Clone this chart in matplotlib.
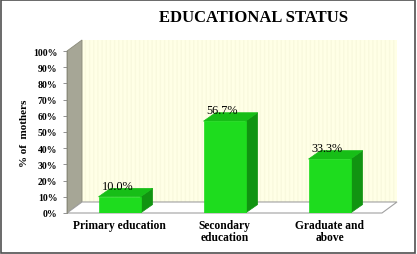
import matplotlib
matplotlib.use('Agg')
import matplotlib.pyplot as plt
from matplotlib.patches import Polygon, Rectangle

categories = ['Primary education', 'Secondary\neducation', 'Graduate and\nabove']
values = [10.0, 56.7, 33.3]
labels = ['10.0%', '56.7%', '33.3%']
yticks = [0, 10, 20, 30, 40, 50, 60, 70, 80, 90, 100]

plt.rcParams['font.family'] = ['Liberation Serif', 'DejaVu Serif']

fig = plt.figure(figsize=(4.17, 2.55), dpi=100)
ax = fig.add_axes([67 / 417, 41 / 255, 315 / 417, 162 / 255])
ax.set_xlim(-0.5, 2.5)
ax.set_ylim(0, 100)

# depth of the "3d" box and bars, in data units
fdx, fdy = 0.143, 6.8
bdx, bdy = 0.115, 5.2
w = 0.40

front = '#1EDC1E'
side = '#119411'
top = '#17BE17'

# back wall
ax.add_patch(Rectangle((-0.5 + fdx, fdy), 3.0, 100, facecolor='#FFFFE6',
                       edgecolor='#F9F9DE', hatch='||||', lw=0, zorder=1, clip_on=False))
# left wall
ax.add_patch(Polygon([(-0.5, 0), (-0.5, 100), (-0.5 + fdx, 100 + fdy), (-0.5 + fdx, fdy)],
                     facecolor='#A6A696', edgecolor='#8A8A7A', lw=0.6, zorder=2, clip_on=False))
# floor
ax.add_patch(Polygon([(-0.5, 0), (2.5, 0), (2.5 + fdx, fdy), (-0.5 + fdx, fdy)],
                     facecolor='white', edgecolor='#A0A0A0', lw=0.8, zorder=2, clip_on=False))

for i, v in enumerate(values):
    x0, x1 = i - w / 2, i + w / 2
    ax.add_patch(Polygon([(x1, 0), (x1 + bdx, bdy), (x1 + bdx, v + bdy), (x1, v)],
                         facecolor=side, edgecolor=side, lw=0.5, zorder=3))
    ax.add_patch(Polygon([(x0, v), (x1, v), (x1 + bdx, v + bdy), (x0 + bdx, v + bdy)],
                         facecolor=top, edgecolor=top, lw=0.5, zorder=3))
    ax.add_patch(Rectangle((x0, 0), w, v, facecolor=front, edgecolor=front, lw=0.5, zorder=4))
    ax.text(i - 0.02, v + bdy - 2.0, labels[i], ha='center', va='bottom',
            fontsize=8.8, color='black', zorder=5)

for s in ['top', 'right', 'bottom']:
    ax.spines[s].set_visible(False)
ax.spines['left'].set_color('#8A8A7A')
ax.spines['left'].set_linewidth(0.6)
ax.spines['left'].set_zorder(3)

ax.set_yticks(yticks)
ax.set_yticklabels([f'{t}%' for t in yticks], fontsize=7, fontweight='bold')
ax.tick_params(axis='y', length=3, width=0.6, color='#808080', pad=4)
ax.set_xticks(range(len(categories)))
ax.set_xticklabels(categories, fontsize=8.3, fontweight='bold', linespacing=1.1)
ax.tick_params(axis='x', length=0, pad=4)
ax.set_ylabel('% of  mothers', fontsize=8, fontweight='bold', labelpad=3)

fig.text(254 / 417, 1 - 18 / 255, 'EDUCATIONAL STATUS', ha='center', va='center',
         fontsize=12, fontweight='bold')

fig.patches.append(Rectangle((0.002, 0.004), 0.993, 0.992, transform=fig.transFigure,
                             fill=False, edgecolor='#505050', lw=1.2))

fig.savefig('out.png', dpi=100)
